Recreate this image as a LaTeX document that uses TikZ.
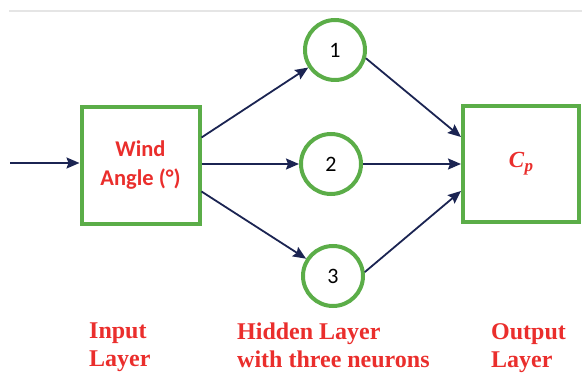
\documentclass[tikz,border=0pt]{standalone}
\usepackage{fontspec}
\setmainfont{Liberation Serif}
\newfontfamily\calib{Carlito}
\usetikzlibrary{arrows.meta,calc}
\definecolor{boxgreen}{HTML}{5BAD48}
\definecolor{labred}{HTML}{EA2E2C}
\definecolor{navy}{HTML}{1B2452}
\tikzset{
  layerbox/.style={draw=boxgreen,line width=4pt,fill=white,inner sep=0pt},
  neuron/.style={circle,draw=boxgreen,line width=4pt,minimum size=60pt,inner sep=0pt,
    font=\calib\fontsize{22}{24}\selectfont},
  link/.style={draw=navy,line width=1.8pt,-{Stealth[length=13pt,width=11pt,inset=2pt]}},
  caption/.style={text=labred,font=\bfseries\fontsize{24}{28}\selectfont,align=left,inner sep=0pt},
}
\begin{document}
\begin{tikzpicture}[x=1pt,y=-1pt]
  \useasboundingbox (0,0) rectangle (582,374);
  % faint frame line at the top
  \draw[gray!20,line width=1.2pt] (9,11) -- (582,11);

  % input layer
  \node[layerbox,minimum width=118pt,minimum height=117pt,text=labred,
        font=\calib\bfseries\fontsize{22.5}{29}\selectfont,align=center]
        (in) at (140.5,165.5) {Wind\\Angle (°)};
  \coordinate (src) at (10,163);

  % hidden layer
  \node[neuron] (h1) at (335,50) {1};
  \node[neuron] (h2) at (331,164) {2};
  \node[neuron] (h3) at (333,276) {3};

  % output layer
  \node[layerbox,minimum width=116pt,minimum height=116pt,text=labred,
        font=\bfseries\itshape\fontsize{23}{26}\selectfont]
        (out) at (521,164) {C\kern0.5pt\raisebox{-0.35ex}{\fontsize{17}{20}\selectfont p}};

  % connections
  \draw[link] (src) -- (in.west |- src);
  \draw[link] ($(in.east)+(0,-28)$) -- (h1);
  \draw[link] (in.east |- h2) -- (h2);
  \draw[link] ($(in.east)+(0,26)$) -- (h3);
  \draw[link] (h1.-15) -- ($(out.west)+(0,-27)$);
  \draw[link] (h2.east) -- (out.west);
  \draw[link] (h3.7) -- ($(out.west)+(0,27)$);

  % layer captions
  \node[caption,anchor=north west] (capin) at (89,323) {Input\\Layer};
  \node[caption,anchor=north west] (caphid) at (237,323) {Hidden Layer\\with three neurons};
  \node[caption,anchor=north west] (capout) at (491,323) {Output\\Layer};
\end{tikzpicture}
\end{document}
